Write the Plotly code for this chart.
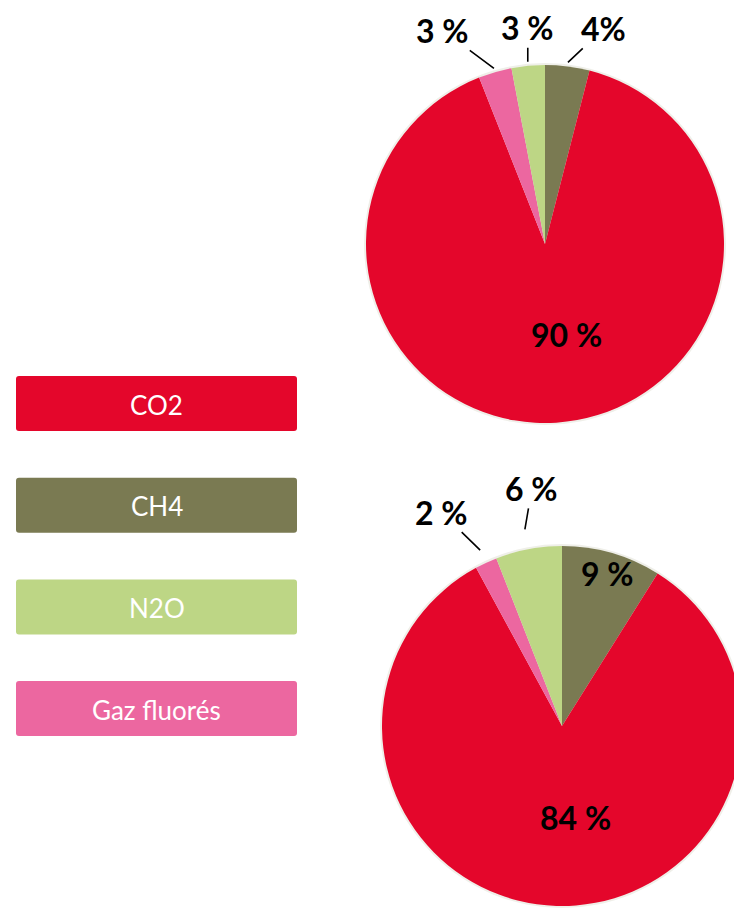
import math
import plotly.graph_objects as go

# ---------------- data ----------------
# slice order, clockwise from 12 o'clock
categories = ["CH4", "CO2", "Gaz fluorés", "N2O"]
legend_order = ["CO2", "CH4", "N2O", "Gaz fluorés"]
colors = {"CO2": "#E4062B", "CH4": "#7A7A52", "N2O": "#BDD685", "Gaz fluorés": "#EC67A0"}

top_values = [4, 90, 3, 3]
top_labels = ["4%", "90 %", "3 %", "3 %"]

bottom_values = [9, 84, 2, 6]
bottom_labels = ["9 %", "84 %", "2 %", "6 %"]

# ---------------- layout constants (screen pixels) ----------------
SCREEN_W, SCREEN_H = 742, 909
OFF = 8                      # default page margin of the html body
W, H = SCREEN_W - OFF, SCREEN_H - OFF
FONT_LBL = "Lato, 'Open Sans', sans-serif"


def fx(v):
    return v - OFF


pies = [
    dict(values=top_values, labels=top_labels, dom_x=(366, 724), dom_y=(65, 423),
         place={
             "CH4": ("out", 4, 36, -34),
             "CO2": ("in", 0.52, 16, -2),
             "Gaz fluorés": ("out", 4, -51, -38),
             "N2O": ("out", 4, 0, -34),
         }),
    dict(values=bottom_values, labels=bottom_labels, dom_x=(382, 742), dom_y=(543, 909),
         place={
             "CH4": ("in", 0.88, 2, 0),
             "CO2": ("in", 0.52, 16, -2),
             "Gaz fluorés": ("out", 14, -39, -38),
             "N2O": ("out", 20, 7, -41),
         }),
]

fig = go.Figure()
# invisible cartesian layer in pixel units for legend boxes / labels
fig.add_trace(go.Scatter(x=[None], y=[None], showlegend=False, hoverinfo="skip"))

annotations = []
shapes = []

for p in pies:
    x0, x1 = fx(p["dom_x"][0]), fx(p["dom_x"][1])
    y0, y1 = fx(p["dom_y"][0]), fx(p["dom_y"][1])
    fig.add_trace(go.Pie(
        labels=categories,
        values=p["values"],
        marker=dict(colors=[colors[c] for c in categories], line=dict(width=0)),
        sort=False,
        direction="clockwise",
        rotation=0,
        textinfo="none",
        hoverinfo="label+percent",
        showlegend=False,
        domain=dict(x=[x0 / W, x1 / W], y=[1 - y1 / H, 1 - y0 / H]),
    ))
    # geometry of the pie as plotly draws it
    cx, cy = (x0 + x1) / 2, (y0 + y1) / 2
    r = min(x1 - x0, y1 - y0) / 2
    # faint grey halo around the pie
    shapes.append(dict(type="circle", xref="x", yref="y", layer="below",
                       x0=cx - r - 2, x1=cx + r + 2, y0=cy - r - 2, y1=cy + r + 2,
                       fillcolor="#efefe9", line=dict(width=0)))
    total = sum(p["values"])
    start = 0.0
    for cat, val, txt in zip(categories, p["values"], p["labels"]):
        span = 360.0 * val / total
        mid = math.radians(start + span / 2)
        start += span
        mode, a, dx, dy = p["place"][cat]
        if mode == "in":
            R = a * r
            px, py = cx + R * math.sin(mid), cy - R * math.cos(mid)
            annotations.append(dict(
                x=px + dx, y=py + dy, xref="x", yref="y", text=f"<b>{txt}</b>",
                showarrow=False, font=dict(family=FONT_LBL, size=32, color="black"),
                xanchor="center", yanchor="middle"))
        else:
            R = r + a
            px, py = cx + R * math.sin(mid), cy - R * math.cos(mid)
            annotations.append(dict(
                x=px, y=py, xref="x", yref="y", text=f"<b>{txt}</b>",
                showarrow=True, arrowhead=0, arrowwidth=1.6, arrowcolor="black",
                ax=dx, ay=dy, axref="pixel", ayref="pixel", standoff=0, borderpad=0,
                font=dict(family=FONT_LBL, size=32, color="black")))


# legend boxes
def rounded_rect(xa, ya, xb, yb, rad=3):
    return (f"M{xa+rad},{ya} L{xb-rad},{ya} Q{xb},{ya} {xb},{ya+rad} "
            f"L{xb},{yb-rad} Q{xb},{yb} {xb-rad},{yb} L{xa+rad},{yb} "
            f"Q{xa},{yb} {xa},{yb-rad} L{xa},{ya+rad} Q{xa},{ya} {xa+rad},{ya} Z")


box_x0, box_x1, box_top0, box_step, box_h = fx(16), fx(297), fx(376), 101.7, 55
for i, cat in enumerate(legend_order):
    t = box_top0 + i * box_step
    shapes.append(dict(type="path", path=rounded_rect(box_x0, t, box_x1, t + box_h),
                       xref="x", yref="y", fillcolor=colors[cat], line=dict(width=0),
                       layer="above"))
    annotations.append(dict(x=(box_x0 + box_x1) / 2, y=t + box_h / 2 + 1, xref="x", yref="y",
                            text=cat, showarrow=False,
                            font=dict(family=FONT_LBL, size=26, color="white"),
                            xanchor="center", yanchor="middle"))

fig.update_layout(
    width=W, height=H,
    margin=dict(l=0, r=0, t=0, b=0),
    paper_bgcolor="white", plot_bgcolor="rgba(0,0,0,0)",
    xaxis=dict(range=[0, W], visible=False, domain=[0, 1], fixedrange=True),
    yaxis=dict(range=[H, 0], visible=False, domain=[0, 1], fixedrange=True),
    shapes=shapes,
    annotations=annotations,
    showlegend=False,
)

fig.write_html("out.html")
